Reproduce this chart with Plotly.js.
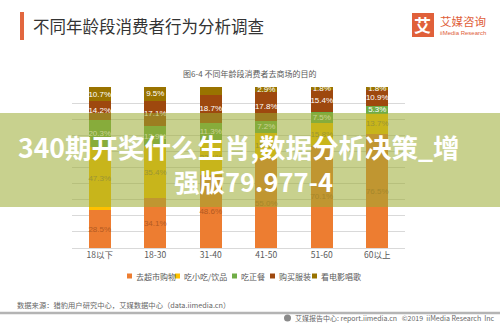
<!DOCTYPE html>
<html>
<head>
<meta charset="utf-8">
<script src="https://cdn.plot.ly/plotly-3.0.1.min.js"></script>
<style>html,body{margin:0;padding:0;background:#fff;}#chart{width:500px;height:325px;}</style>
</head>
<body>
<div id="chart"></div>
<script>
// ---- data ----
const categories = ['18以下', '18-30', '31-40', '41-50', '51-60', '60以上'];
const seriesNames = ['去超市购物', '吃小吃/饮品', '吃正餐', '购买服装', '看电影唱歌'];
const supermarket = [28.5, 34.1, 48.6, 55.0, 70.1, 76.5];
const snack       = [47.3, 35.4, 23.1, 15.5, 15.8, 13.7];
const meal        = [20.3, 13.9, 11.3, 7.2, 7.5, 5.3];
const clothes     = [14.2, 17.1, 18.7, 17.8, 15.4, 10.9];
const movie       = [10.7, 9.5, 5.0, 2.9, 1.8, 1.8];

const chartTitle = '不同年龄段消费者行为分析调查';
const chartSubtitle = '图6-4 不同年龄段消费者去商场的目的';
const sourceText = '数据来源：猎豹用户研究中心，艾媒数据中心（data.iimedia.cn）';
const footerRight = '艾媒报告中心: report.iimedia.cn   ©2019  iiMedia Research  Inc';
const watermark1 = '340期开奖什么生肖,数据分析决策_增';
const watermark2 = '强版79.977-4';

// ---- styling ----
const colors = ['#ED7D31', '#FFC000', '#70AD47', '#9E480E', '#997300'];
const labelColors = ['#b35a22', '#9a7a3a', '#ffffff', '#ffffff', '#ffffff'];
const FONT = '"Noto Sans CJK SC", "Noto Sans", sans-serif';

// plot area in pixels
const L = 72, R = 405, T = 87, B = 248;
const px = x => (x - L) / (R - L);
const py = y => (B - y) / (B - T);

const allSeries = [supermarket, snack, meal, clothes, movie];
const traces = allSeries.map((vals, i) => ({
  type: 'bar',
  name: seriesNames[i],
  x: categories,
  y: vals,
  text: vals.map(v => v.toFixed(1) + '%'),
  texttemplate: '%{text}',
  textposition: 'inside',
  insidetextanchor: 'middle',
  textangle: 0,
  constraintext: 'none',
  cliponaxis: false,
  textfont: {family: '"Liberation Sans", Arial, sans-serif', size: 8, color: labelColors[i]},
  marker: {color: colors[i], line: {width: 0}},
  hoverinfo: 'skip',
  showlegend: false
}));

const shapes = [];
const annotations = [];

// header accent bar
shapes.push({type: 'rect', xref: 'paper', yref: 'paper', x0: px(20), x1: px(24), y0: py(40), y1: py(12),
  fillcolor: '#e2673f', line: {width: 0}, layer: 'above'});
annotations.push({xref: 'paper', yref: 'paper', x: px(31), y: py(26), xanchor: 'left', yanchor: 'middle',
  text: chartTitle, showarrow: false, font: {family: FONT, size: 16.5, color: '#333333'}});

// logo
shapes.push({type: 'rect', xref: 'paper', yref: 'paper', x0: px(412), x1: px(434), y0: py(37), y1: py(13),
  fillcolor: '#e0603a', line: {width: 0}, layer: 'above'});
annotations.push({xref: 'paper', yref: 'paper', x: px(423), y: py(25), xanchor: 'center', yanchor: 'middle',
  text: '<b>艾</b>', showarrow: false, font: {family: FONT, size: 17, color: '#ffffff'}});
annotations.push({xref: 'paper', yref: 'paper', x: px(438), y: py(21), xanchor: 'left', yanchor: 'middle',
  text: '艾媒咨询', showarrow: false, font: {family: FONT, size: 11.5, color: '#e0603a'}});
annotations.push({xref: 'paper', yref: 'paper', x: px(438), y: py(32.5), xanchor: 'left', yanchor: 'middle',
  text: 'iiMedia Research', showarrow: false, font: {family: '"Liberation Sans", Arial, sans-serif', size: 6, color: '#e0603a'}});

// subtitle
annotations.push({xref: 'paper', yref: 'paper', x: px(249), y: py(73), xanchor: 'center', yanchor: 'middle',
  text: chartSubtitle, showarrow: false, font: {family: FONT, size: 8, color: '#595959'}});

// manual legend
const legX = [127, 175, 232, 270, 312];
seriesNames.forEach((n, i) => {
  shapes.push({type: 'rect', xref: 'paper', yref: 'paper', x0: px(legX[i]), x1: px(legX[i] + 5),
    y0: py(278.5), y1: py(273.5), fillcolor: colors[i], line: {width: 0}, layer: 'above'});
  annotations.push({xref: 'paper', yref: 'paper', x: px(legX[i] + 7), y: py(276), xanchor: 'left', yanchor: 'middle',
    text: n, showarrow: false, font: {family: FONT, size: 8, color: '#595959'}});
});

// footer
annotations.push({xref: 'paper', yref: 'paper', x: px(15), y: py(305), xanchor: 'left', yanchor: 'middle',
  text: sourceText, showarrow: false, font: {family: FONT, size: 7.3, color: '#666666'}});
shapes.push({type: 'line', xref: 'paper', yref: 'paper', x0: px(0), x1: px(500), y0: py(313), y1: py(313),
  line: {color: '#b4b4b4', width: 2.5}, layer: 'above'});
shapes.push({type: 'circle', xref: 'paper', yref: 'paper', x0: px(284), x1: px(291), y0: py(321.5), y1: py(314.5),
  fillcolor: '#8a8a8a', line: {width: 0}, layer: 'above'});
annotations.push({xref: 'paper', yref: 'paper', x: px(293), y: py(318), xanchor: 'left', yanchor: 'middle',
  text: footerRight, showarrow: false, font: {family: FONT, size: 7, color: '#666666'}});

// watermark band
shapes.push({type: 'rect', xref: 'paper', yref: 'paper', x0: px(0), x1: px(500), y0: py(207), y1: py(113),
  fillcolor: 'rgba(155,172,50,0.55)', line: {width: 0}, layer: 'above'});
annotations.push({xref: 'paper', yref: 'paper', x: px(239), y: py(146), xanchor: 'center', yanchor: 'middle',
  text: '<b>' + watermark1 + '</b>', showarrow: false, font: {family: FONT, size: 26.5, color: '#ffffff'}});
annotations.push({xref: 'paper', yref: 'paper', x: px(253), y: py(180), xanchor: 'center', yanchor: 'middle',
  text: '<b>' + watermark2 + '</b>', showarrow: false, font: {family: FONT, size: 25.5, color: '#ffffff'}});

const layout = {
  width: 500, height: 325,
  margin: {l: L, r: 500 - R, t: T, b: 325 - B, pad: 0},
  paper_bgcolor: '#ffffff', plot_bgcolor: '#ffffff',
  barmode: 'stack', barnorm: 'percent', bargap: 0.6,
  font: {family: FONT},
  showlegend: false,
  xaxis: {type: 'category', showgrid: false, zeroline: false, showline: false, ticks: '',
    tickfont: {family: FONT, size: 8.5, color: '#595959'}, fixedrange: true},
  yaxis: {range: [0, 100], dtick: 10, showgrid: true, gridcolor: '#d9d9d9', gridwidth: 1,
    zeroline: true, zerolinecolor: '#d9d9d9', showticklabels: false, ticks: '', fixedrange: true},
  shapes: shapes,
  annotations: annotations
};

Plotly.newPlot('chart', traces, layout, {displayModeBar: false, staticPlot: true});
</script>
</body>
</html>
